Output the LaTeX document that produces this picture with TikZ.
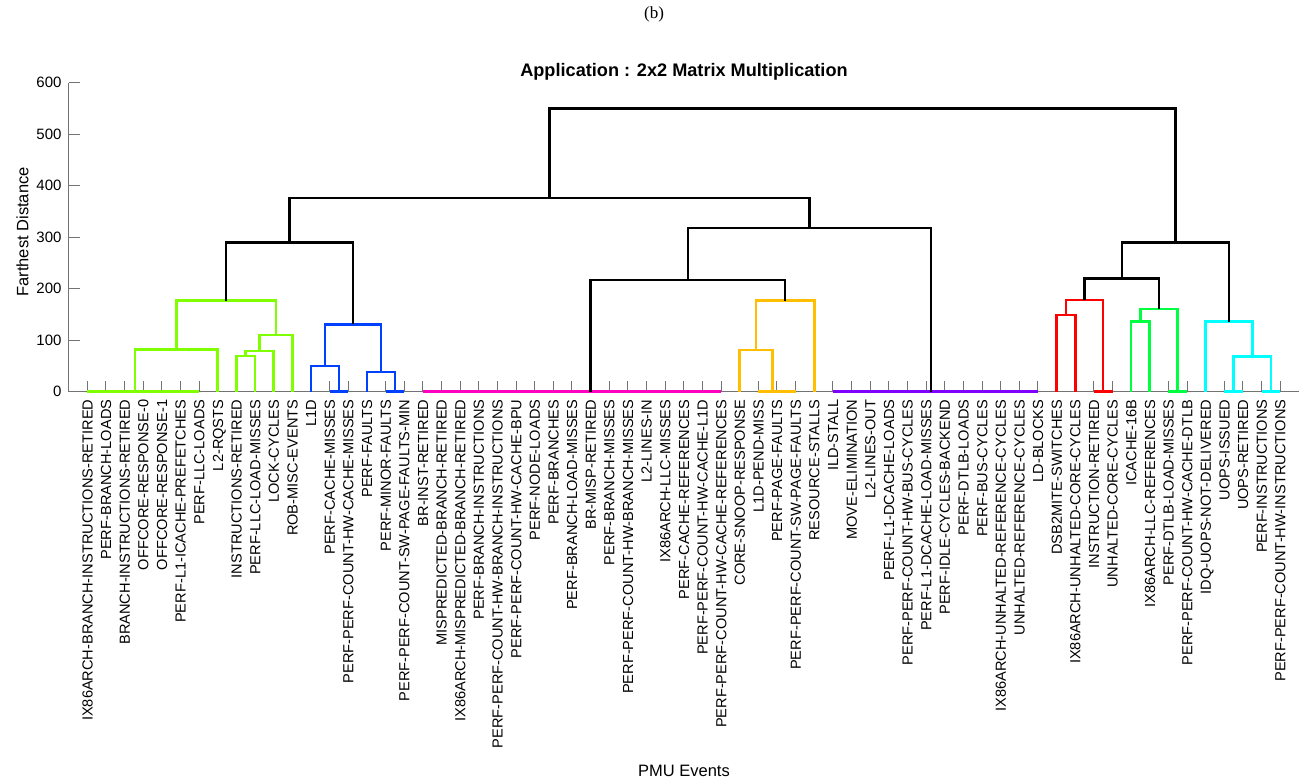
\documentclass[tikz,border=0pt]{standalone}
\usepackage{fontspec}
\setmainfont{Liberation Sans}
\newfontfamily\seriffont{Liberation Serif}
\definecolor{cA}{rgb}{0.5,1,0}
\definecolor{cB}{rgb}{0,0.25,1}
\definecolor{cM}{rgb}{1,0,0.75}
\definecolor{cO}{rgb}{1,0.75,0}
\definecolor{cP}{rgb}{0.5,0,1}
\definecolor{cR}{rgb}{1,0,0}
\definecolor{cG}{rgb}{0,1,0.25}
\definecolor{cC}{rgb}{0,1,1}
\definecolor{axisgray}{rgb}{0.45,0.45,0.45}
\tikzset{
  dl/.style={line width=2.6pt, line join=miter, line cap=butt},
  axisline/.style={draw=axisgray, line width=1pt},
  leaflbl/.style={rotate=90, anchor=east, inner sep=0pt, text height=10.45pt, text depth=0pt, font=\fontsize{14.6}{14.6}\selectfont},
  ticklbl/.style={anchor=east, inner sep=0pt, text height=10.74pt, text depth=0pt, font=\fontsize{15}{15}\selectfont},
  axlbl/.style={inner sep=0pt, text height=11.8pt, text depth=0pt, font=\fontsize{16.5}{16.5}\selectfont}
}
\begin{document}
\begin{tikzpicture}[x=1pt,y=1pt]
\useasboundingbox (0,0) rectangle (1307,780);
\node[inner sep=0pt, font=\seriffont\fontsize{17}{17}\selectfont] (sub) at (654,766) {(b)};
\node[inner sep=0pt, text height=13pt, text depth=0pt, font=\bfseries\fontsize{18.15}{18.15}\selectfont] (title) at (684,710) {Application : 2x2 Matrix Multiplication};
\node[axlbl, rotate=90] (ylab) at (22.5,548) {Farthest Distance};
\node[axlbl] (xlab) at (684,9) {PMU Events};
\begin{scope}[shift={(68.66pt,388.4pt)}, x=18.64pt, y=0.515pt]
  % axes
  \draw[axisline] (0,0) -- (66,0);
  \draw[axisline] (0,0) -- (0,600);
  \foreach \v in {0,100,...,600} {
    \draw[axisline] (0,\v) -- (0.59,\v);
    \node[ticklbl] (yt\v) at (-0.3755,\v) {\v};
  }
  \foreach \i in {1,...,65} \draw[axisline] (\i,0) -- (\i,21);
  % leaf labels
  \foreach \n [count=\i] in {IX86ARCH-BRANCH-INSTRUCTIONS-RETIRED,PERF-BRANCH-LOADS,BRANCH-INSTRUCTIONS-RETIRED,OFFCORE-RESPONSE-0,OFFCORE-RESPONSE-1,PERF-L1-ICACHE-PREFETCHES,PERF-LLC-LOADS,L2-RQSTS,INSTRUCTIONS-RETIRED,PERF-LLC-LOAD-MISSES,LOCK-CYCLES,ROB-MISC-EVENTS,L1D,PERF-CACHE-MISSES,PERF-PERF-COUNT-HW-CACHE-MISSES,PERF-FAULTS,PERF-MINOR-FAULTS,PERF-PERF-COUNT-SW-PAGE-FAULTS-MIN,BR-INST-RETIRED,MISPREDICTED-BRANCH-RETIRED,IX86ARCH-MISPREDICTED-BRANCH-RETIRED,PERF-BRANCH-INSTRUCTIONS,PERF-PERF-COUNT-HW-BRANCH-INSTRUCTIONS,PERF-PERF-COUNT-HW-CACHE-BPU,PERF-NODE-LOADS,PERF-BRANCHES,PERF-BRANCH-LOAD-MISSES,BR-MISP-RETIRED,PERF-BRANCH-MISSES,PERF-PERF-COUNT-HW-BRANCH-MISSES,L2-LINES-IN,IX86ARCH-LLC-MISSES,PERF-CACHE-REFERENCES,PERF-PERF-COUNT-HW-CACHE-L1D,PERF-PERF-COUNT-HW-CACHE-REFERENCES,CORE-SNOOP-RESPONSE,L1D-PEND-MISS,PERF-PAGE-FAULTS,PERF-PERF-COUNT-SW-PAGE-FAULTS,RESOURCE-STALLS,ILD-STALL,MOVE-ELIMINATION,L2-LINES-OUT,PERF-L1-DCACHE-LOADS,PERF-PERF-COUNT-HW-BUS-CYCLES,PERF-L1-DCACHE-LOAD-MISSES,PERF-IDLE-CYCLES-BACKEND,PERF-DTLB-LOADS,PERF-BUS-CYCLES,IX86ARCH-UNHALTED-REFERENCE-CYCLES,UNHALTED-REFERENCE-CYCLES,LD-BLOCKS,DSB2MITE-SWITCHES,IX86ARCH-UNHALTED-CORE-CYCLES,INSTRUCTION-RETIRED,UNHALTED-CORE-CYCLES,ICACHE-16B,IX86ARCH-LLC-REFERENCES,PERF-DTLB-LOAD-MISSES,PERF-PERF-COUNT-HW-CACHE-DTLB,IDQ-UOPS-NOT-DELIVERED,UOPS-ISSUED,UOPS-RETIRED,PERF-INSTRUCTIONS,PERF-PERF-COUNT-HW-INSTRUCTIONS}
    \node[leaflbl] (L\i) at (\i,-15.3) {\n};
  % green cluster
  \draw[dl,cA] (1,0) -- (7,0);
  \draw[dl,cA] (3.56,0) -- (3.56,82.1) -- (8,82.1) -- (8,0);
  \draw[dl,cA] (9,0) -- (9,69.1) -- (10,69.1) -- (10,0);
  \draw[dl,cA] (9.5,69.1) -- (9.5,78.8) -- (11,78.8) -- (11,0);
  \draw[dl,cA] (10.25,78.8) -- (10.25,109.9) -- (12,109.9) -- (12,0);
  \draw[dl,cA] (5.78,82.1) -- (5.78,176.5) -- (11.125,176.5) -- (11.125,109.9);
  % blue cluster
  \draw[dl,cB] (14,0) -- (15,0);
  \draw[dl,cB] (13,0) -- (13,49.7) -- (14.5,49.7) -- (14.5,0);
  \draw[dl,cB] (17,0) -- (18,0);
  \draw[dl,cB] (16,0) -- (16,38) -- (17.5,38) -- (17.5,0);
  \draw[dl,cB] (13.75,49.7) -- (13.75,130.7) -- (16.75,130.7) -- (16.75,38);
  \draw[dl,black] (8.45,176.5) -- (8.45,289) -- (15.25,289) -- (15.25,130.7);
  % magenta cluster
  \draw[dl,cM] (19,0) -- (35,0);
  % orange cluster
  \draw[dl,cO] (37,0) -- (39,0);
  \draw[dl,cO] (36,0) -- (36,80.8) -- (37.75,80.8) -- (37.75,0);
  \draw[dl,cO] (36.875,80.8) -- (36.875,176.5) -- (40,176.5) -- (40,0);
  \draw[dl,black] (28,0) -- (28,216.7) -- (38.4375,216.7) -- (38.4375,176.5);
  % purple cluster
  \draw[dl,cP] (41,0) -- (52,0);
  \draw[dl,black] (33.22,216.7) -- (33.22,318) -- (46.26,318) -- (46.26,0);
  \draw[dl,black] (11.85,289) -- (11.85,375.7) -- (39.74,375.7) -- (39.74,318);
  % red cluster
  \draw[dl,cR] (53,0) -- (53,148.7) -- (54,148.7) -- (54,0);
  \draw[dl,cR] (55,0) -- (56,0);
  \draw[dl,cR] (53.5,148.7) -- (53.5,177.9) -- (55.5,177.9) -- (55.5,0);
  % green2 cluster
  \draw[dl,cG] (57,0) -- (57,135.7) -- (58,135.7) -- (58,0);
  \draw[dl,cG] (59,0) -- (60,0);
  \draw[dl,cG] (57.5,135.7) -- (57.5,160.4) -- (59.5,160.4) -- (59.5,0);
  \draw[dl,black] (54.5,177.9) -- (54.5,220) -- (58.5,220) -- (58.5,160.4);
  % cyan cluster
  \draw[dl,cC] (62,0) -- (63,0);
  \draw[dl,cC] (64,0) -- (65,0);
  \draw[dl,cC] (62.5,0) -- (62.5,67.8) -- (64.5,67.8) -- (64.5,0);
  \draw[dl,cC] (61,0) -- (61,135.7) -- (63.5,135.7) -- (63.5,67.8);
  \draw[dl,black] (56.5,220) -- (56.5,289) -- (62.25,289) -- (62.25,135.7);
  % top
  \draw[dl,black] (25.8,375.7) -- (25.8,550) -- (59.375,550) -- (59.375,289);
\end{scope}
\end{tikzpicture}
\end{document}
